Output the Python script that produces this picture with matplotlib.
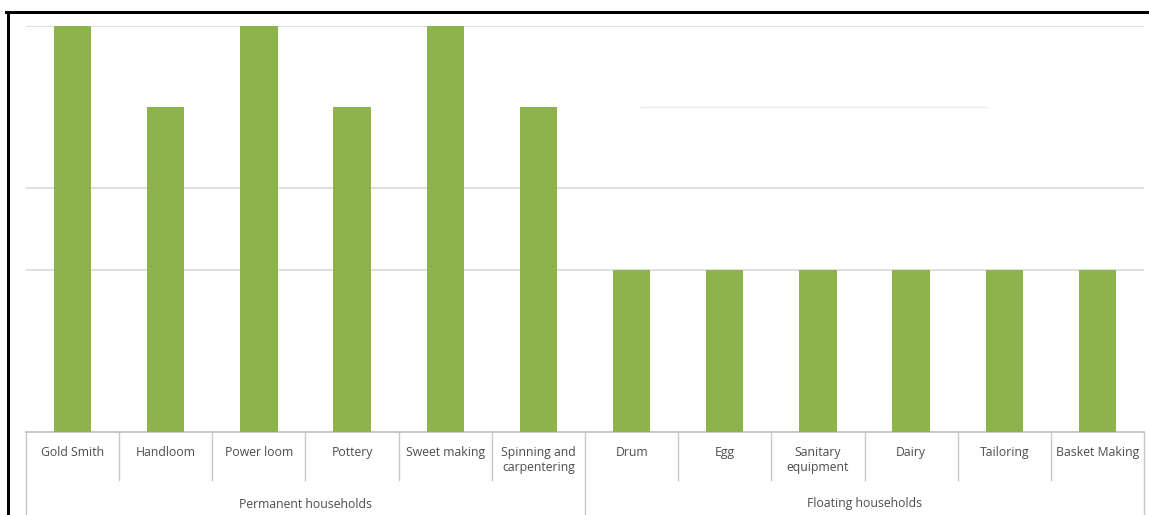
import matplotlib.pyplot as plt
from matplotlib.lines import Line2D

# Data
categories = ['Gold Smith', 'Handloom', 'Power loom', 'Pottery', 'Sweet making',
              'Spinning and\ncarpentering', 'Drum', 'Egg', 'Sanitary\nequipment',
              'Dairy', 'Tailoring', 'Basket Making']
values = [5, 4, 5, 4, 5, 4, 2, 2, 2, 2, 2, 2]
groups = ['Permanent households', 'Floating households']
group_sizes = [6, 6]

plt.rcParams['font.family'] = ['Open Sans', 'DejaVu Sans']

W, H = 1149, 515
fig = plt.figure(figsize=(W / 100, H / 100), dpi=100)
ax = fig.add_axes([26 / W, (H - 432) / H, 1118 / W, 406 / H])

x = range(len(categories))
ax.bar(x, values, width=0.4, color='#8DB44A', zorder=3)

ax.set_xlim(-0.5, len(categories) - 0.5)
ax.set_ylim(0, 5)

# horizontal gridlines
for y in [2, 3, 5]:
    ax.axhline(y, color='#dadada', lw=1.2, zorder=1)
ax.axhline(4, xmin=0.55, xmax=0.86, color='#ececec', lw=1.0, zorder=1)

for side in ['top', 'right', 'left']:
    ax.spines[side].set_visible(False)
ax.spines['bottom'].set_color('#bfbfbf')
ax.spines['bottom'].set_linewidth(1.2)
ax.set_yticks([])
ax.set_xticks(list(x))
ax.set_xticklabels(categories, fontsize=8.8, color='#4d4d4d', linespacing=1.2)
ax.tick_params(axis='x', length=0, pad=10)

# category separators and group boundaries below the axis
sep_bottom = -(480 - 432) / 406
grp_bottom = -(515 - 432) / 406
bounds = [0]
for s in group_sizes:
    bounds.append(bounds[-1] + s)
for k in range(len(categories) + 1):
    y1 = grp_bottom if k in bounds else sep_bottom
    ax.add_line(Line2D([k - 0.5, k - 0.5], [0, y1], color='#c8c8c8', lw=1.0,
                       transform=ax.get_xaxis_transform(), clip_on=False))

# group labels
label_y = -(504 - 432) / 406
for i, g in enumerate(groups):
    cx = (bounds[i] + bounds[i + 1]) / 2 - 0.5
    ax.text(cx, label_y, g, ha='center', va='center', fontsize=8.8, color='#4d4d4d',
            transform=ax.get_xaxis_transform())

# black frame around the image
lw = 3 * 72 / 100
fig.add_artist(Line2D([6 / W, 1], [1 - 12 / H, 1 - 12 / H], color='black', lw=lw,
                      transform=fig.transFigure))
fig.add_artist(Line2D([7.5 / W, 7.5 / W], [0, 1 - 12 / H], color='black', lw=lw,
                      transform=fig.transFigure))

fig.savefig('out.png', dpi=100)
